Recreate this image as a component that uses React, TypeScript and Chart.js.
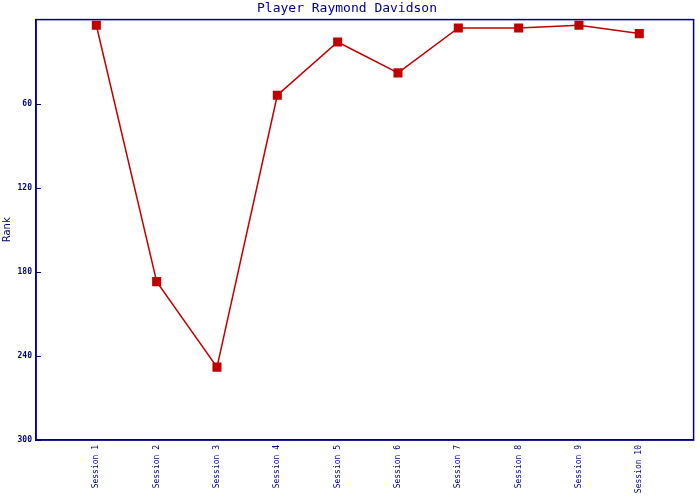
import React, { useEffect, useRef } from "react";
import { Chart, registerables } from "chart.js";

Chart.register(...registerables);

const categories: string[] = [
  "Session 1", "Session 2", "Session 3", "Session 4", "Session 5",
  "Session 6", "Session 7", "Session 8", "Session 9", "Session 10",
];
const ranks: number[] = [4, 187, 248, 54, 16, 38, 6, 6, 4, 10];
const yTicks: number[] = [60, 120, 180, 240, 300];

const NAVY = "#000080";
const RED = "#C00000";

const frame = {
  id: "frame",
  afterDraw(chart: any) {
    const { ctx, chartArea } = chart;
    const y = chart.scales.y;
    ctx.save();
    ctx.strokeStyle = NAVY;
    ctx.lineWidth = 1.5;
    ctx.strokeRect(chartArea.left, chartArea.top, chartArea.right - chartArea.left, chartArea.bottom - chartArea.top);
    ctx.lineWidth = 1;
    yTicks.forEach((v) => {
      const py = Math.round(y.getPixelForValue(v)) + 0.5;
      ctx.beginPath();
      ctx.moveTo(chartArea.left, py);
      ctx.lineTo(chartArea.left + 5, py);
      ctx.stroke();
    });
    ctx.restore();
  },
};

export default function App() {
  const ref = useRef<HTMLCanvasElement | null>(null);
  useEffect(() => {
    document.body.style.margin = "0";
    if (!ref.current) return;
    const chart = new Chart(ref.current, {
      type: "line",
      data: {
        datasets: [
          {
            data: ranks.map((r, i) => ({ x: i + 1, y: r })),
            borderColor: RED,
            backgroundColor: RED,
            borderWidth: 1.5,
            pointStyle: "rect",
            pointRadius: 6.4,
            pointBorderWidth: 0,
            pointBackgroundColor: RED,
            tension: 0,
          },
        ],
      },
      options: {
        animation: false,
        responsive: false,
        layout: { padding: { left: 0, right: 6, top: 0, bottom: 0 } },
        plugins: {
          legend: { display: false },
          tooltip: { enabled: false },
          title: {
            display: true,
            text: "Player Raymond Davidson",
            color: NAVY,
            font: { family: "DejaVu Sans Mono", size: 13, weight: "normal", lineHeight: 1.2 },
            padding: { top: 1, bottom: 3 },
          },
        },
        scales: {
          x: {
            type: "linear",
            min: 0,
            max: 10.9,
            afterBuildTicks: (scale: any) => {
              scale.ticks = categories.map((_, i) => ({ value: i + 1 }));
            },
            afterFit: (scale: any) => {
              scale.height = 60;
            },
            grid: { display: false, drawTicks: false },
            border: { display: true, color: NAVY, width: 1.5 },
            ticks: {
              autoSkip: false,
              minRotation: 90,
              maxRotation: 90,
              padding: 5,
              color: NAVY,
              font: { family: "DejaVu Sans Mono", size: 8 },
              callback: (v: any) => categories[Number(v) - 1] ?? "",
            },
          },
          y: {
            reverse: true,
            min: 0,
            max: 300,
            afterBuildTicks: (scale: any) => {
              scale.ticks = yTicks.map((v) => ({ value: v }));
            },
            afterFit: (scale: any) => {
              scale.width = 36;
            },
            grid: { display: false, drawTicks: false },
            border: { display: true, color: NAVY, width: 1.5 },
            ticks: {
              padding: 4,
              color: NAVY,
              font: { family: "DejaVu Sans Mono", size: 8, weight: "bold" },
            },
            title: {
              display: true,
              text: "Rank",
              color: NAVY,
              font: { family: "DejaVu Sans", size: 10, lineHeight: 1.2 },
              padding: { top: 1, bottom: 0 },
            },
          },
        },
      },
      plugins: [frame],
    });
    return () => chart.destroy();
  }, []);
  return (
    <div style={{ width: 700, height: 500 }}>
      <canvas ref={ref} width={700} height={500} style={{ display: "block" }} />
    </div>
  );
}
